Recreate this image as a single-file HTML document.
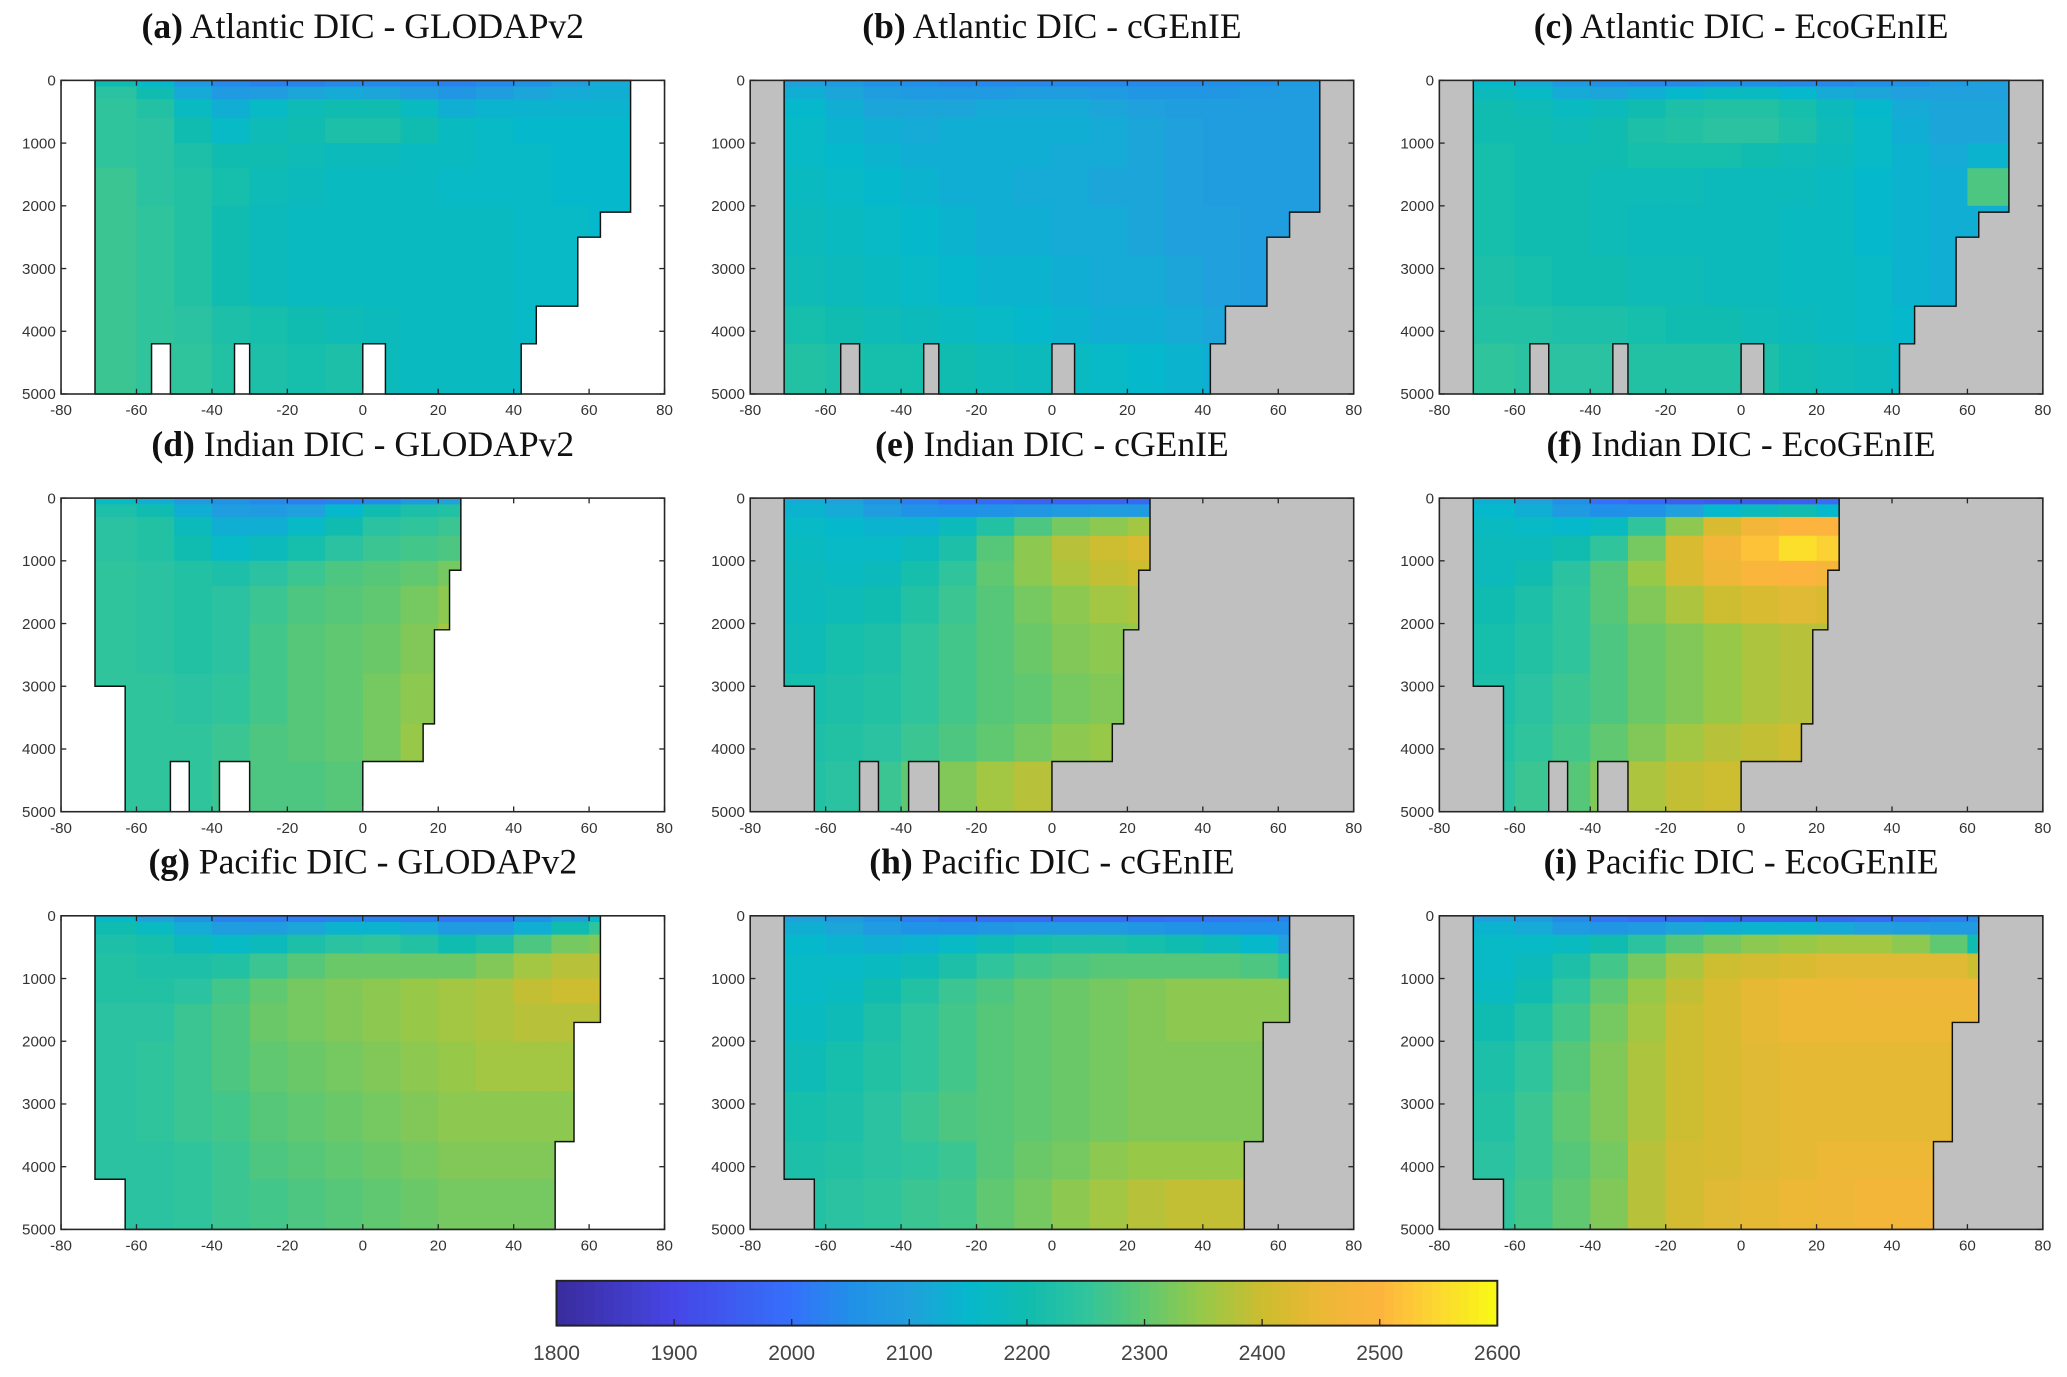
<!DOCTYPE html>
<html><head><meta charset="utf-8"><style>
html,body{margin:0;padding:0;background:#fff;}
svg{display:block;}
</style></head><body>
<svg id="fig" xmlns="http://www.w3.org/2000/svg" width="2067" height="1377" viewBox="0 0 1568 1045">
<defs id="defs"></defs>
<g id="root"></g>
</svg>
<script>
// ---- data ----
const latEdges = [-71,-60,-50,-40,-30,-20,-10,0,10,20,30,40,50,60,71];
const depthEdges = [0,100,300,600,1000,1400,2000,2800,3600,4200,5000];
const xTicks = [-80,-60,-40,-20,0,20,40,60,80];
const yTicks = [0,1000,2000,3000,4000,5000];
const cbTicks = [1800,1900,2000,2100,2200,2300,2400,2500,2600];
const panelTitles = [
 ["(a)","Atlantic DIC - GLODAPv2"],["(b)","Atlantic DIC - cGEnIE"],["(c)","Atlantic DIC - EcoGEnIE"],
 ["(d)","Indian DIC - GLODAPv2"],["(e)","Indian DIC - cGEnIE"],["(f)","Indian DIC - EcoGEnIE"],
 ["(g)","Pacific DIC - GLODAPv2"],["(h)","Pacific DIC - cGEnIE"],["(i)","Pacific DIC - EcoGEnIE"]];
// basin outlines [lat, depth]
const atlanticOutline = [[-71,0],[71,0],[71,2100],[63,2100],[63,2500],[57,2500],[57,3600],[46,3600],[46,4200],[42,4200],[42,5000],[6,5000],[6,4200],[0,4200],[0,5000],[-30,5000],[-30,4200],[-34,4200],[-34,5000],[-51,5000],[-51,4200],[-56,4200],[-56,5000],[-71,5000]];
const indianOutline = [[-71,0],[26,0],[26,1150],[23,1150],[23,2100],[19,2100],[19,3600],[16,3600],[16,4200],[0,4200],[0,5000],[-30,5000],[-30,4200],[-38,4200],[-38,5000],[-46,5000],[-46,4200],[-51,4200],[-51,5000],[-63,5000],[-63,3000],[-71,3000]];
const pacificOutline = [[-71,0],[63,0],[63,1700],[56,1700],[56,3600],[51,3600],[51,5000],[-63,5000],[-63,4200],[-71,4200]];

const atlGlodap = [
[2200,2150,2080,2040,2030,2030,2040,2040,2040,2030,2040,2060,2090,2120],
[2240,2200,2120,2080,2090,2110,2120,2110,2090,2070,2090,2110,2120,2130],
[2250,2230,2170,2130,2160,2190,2200,2200,2170,2130,2140,2140,2140,2140],
[2250,2240,2200,2160,2190,2200,2220,2220,2200,2170,2160,2150,2150,2150],
[2250,2240,2220,2200,2200,2190,2180,2180,2170,2170,2160,2160,2150,2150],
[2260,2240,2230,2210,2190,2180,2170,2170,2170,2160,2160,2160,2150,2150],
[2260,2250,2230,2200,2180,2170,2170,2170,2170,2170,2170,2160,2160,2150],
[2260,2250,2230,2200,2180,2170,2170,2170,2170,2170,2170,2160,2160,2150],
[2260,2250,2240,2220,2210,2200,2190,2180,2170,2170,2170,2160,2160,2150],
[2260,2250,2250,2230,2220,2210,2220,2180,2170,2170,2170,2160,2160,2150]];
const atlCgenie = [
[2100,2080,2060,2050,2040,2040,2040,2040,2040,2040,2040,2050,2060,2080],
[2130,2110,2090,2080,2080,2080,2090,2090,2080,2070,2070,2070,2080,2090],
[2150,2130,2110,2110,2110,2120,2120,2120,2110,2100,2090,2090,2090,2090],
[2160,2140,2130,2120,2130,2130,2130,2130,2120,2110,2100,2090,2090,2090],
[2160,2150,2140,2130,2130,2130,2130,2120,2120,2110,2100,2090,2090,2090],
[2170,2160,2150,2140,2130,2130,2120,2120,2110,2110,2100,2090,2090,2090],
[2180,2170,2160,2150,2140,2130,2130,2120,2120,2110,2100,2100,2090,2090],
[2190,2180,2170,2160,2150,2140,2140,2130,2120,2120,2110,2100,2090,2090],
[2210,2200,2190,2180,2170,2160,2150,2140,2130,2130,2120,2110,2100,2090],
[2230,2220,2210,2210,2200,2190,2180,2170,2160,2150,2140,2130,2120,2100]];
const atlEco = [
[2150,2120,2080,2050,2040,2040,2050,2050,2040,2040,2050,2060,2080,2100],
[2180,2160,2120,2110,2130,2150,2170,2170,2150,2120,2110,2100,2100,2100],
[2200,2190,2170,2180,2200,2220,2230,2230,2210,2180,2150,2120,2110,2110],
[2200,2200,2190,2200,2220,2230,2240,2240,2220,2190,2160,2130,2110,2110],
[2210,2200,2200,2200,2210,2210,2210,2200,2190,2180,2160,2140,2120,2140],
[2210,2200,2200,2190,2190,2190,2180,2180,2180,2170,2150,2140,2130,2280],
[2210,2200,2200,2190,2180,2180,2180,2180,2170,2170,2150,2140,2130,2130],
[2220,2210,2200,2200,2190,2190,2180,2180,2170,2170,2160,2140,2130,2130],
[2230,2230,2220,2220,2210,2200,2200,2190,2180,2170,2160,2150,2140,2130],
[2250,2240,2240,2240,2230,2230,2230,2220,2200,2190,2180,2160,2150,2140]];
const indGlodap = [
[2170,2130,2080,2060,2040,2020,2030,2040,2080,2100,2100,2100,2100,2100],
[2220,2200,2130,2090,2080,2100,2150,2200,2220,2230,2230,2230,2230,2230],
[2240,2230,2180,2130,2130,2160,2200,2240,2250,2260,2260,2260,2260,2260],
[2240,2230,2200,2160,2180,2210,2240,2260,2270,2280,2280,2280,2280,2280],
[2250,2240,2230,2220,2240,2260,2280,2290,2300,2320,2320,2320,2320,2320],
[2250,2240,2230,2240,2260,2280,2290,2300,2320,2340,2340,2340,2340,2340],
[2250,2240,2230,2240,2270,2290,2300,2310,2330,2360,2360,2360,2360,2360],
[2250,2250,2240,2250,2270,2290,2300,2320,2340,2370,2370,2370,2370,2370],
[2250,2250,2250,2260,2280,2290,2300,2320,2350,2360,2360,2360,2360,2360],
[2250,2250,2250,2260,2280,2280,2290,2300,2350,2360,2360,2360,2360,2360]];
const indCgenie = [
[2120,2100,2060,2020,1990,1980,1970,1970,1970,1980,1980,1980,1980,1980],
[2140,2120,2090,2060,2050,2060,2070,2080,2090,2080,2080,2080,2080,2080],
[2160,2150,2140,2140,2180,2230,2280,2320,2340,2360,2360,2360,2360,2360],
[2170,2160,2160,2180,2220,2290,2340,2380,2400,2420,2420,2420,2420,2420],
[2180,2170,2180,2210,2250,2300,2340,2370,2390,2400,2400,2400,2400,2400],
[2180,2190,2200,2230,2260,2290,2320,2340,2360,2370,2370,2370,2370,2370],
[2190,2210,2220,2250,2270,2290,2310,2330,2340,2350,2350,2350,2350,2350],
[2210,2220,2230,2250,2270,2290,2300,2320,2330,2340,2340,2340,2340,2340],
[2220,2230,2240,2260,2280,2300,2320,2340,2350,2350,2350,2350,2350,2350],
[2230,2240,2260,2300,2330,2360,2380,2390,2390,2390,2390,2390,2390,2390]];
const indEco = [
[2130,2100,2050,2000,1980,1960,1950,1950,1960,1990,1990,1990,1990,1990],
[2150,2130,2080,2050,2060,2100,2150,2180,2200,2150,2150,2150,2150,2150],
[2170,2160,2150,2170,2250,2340,2420,2470,2500,2500,2500,2500,2500,2500],
[2180,2180,2200,2250,2320,2420,2470,2520,2560,2540,2540,2540,2540,2540],
[2180,2200,2240,2290,2350,2420,2460,2490,2500,2480,2480,2480,2480,2480],
[2200,2220,2250,2290,2330,2370,2400,2420,2430,2420,2420,2420,2420,2420],
[2210,2230,2250,2280,2310,2330,2350,2370,2380,2380,2380,2380,2380,2380],
[2220,2240,2260,2280,2310,2330,2350,2370,2380,2380,2380,2380,2380,2380],
[2230,2250,2270,2300,2330,2360,2380,2390,2400,2400,2400,2400,2400,2400],
[2240,2260,2290,2330,2370,2390,2400,2400,2400,2400,2400,2400,2400,2400]];
const pacGlodap = [
[2150,2100,2060,2030,2020,2020,2030,2030,2020,2010,2010,2050,2100,2150],
[2200,2170,2120,2090,2090,2110,2140,2140,2120,2080,2080,2130,2200,2250],
[2220,2210,2180,2160,2180,2220,2240,2250,2230,2200,2220,2280,2320,2330],
[2230,2220,2220,2230,2260,2290,2310,2310,2310,2310,2330,2360,2380,2380],
[2230,2230,2240,2270,2300,2320,2330,2340,2350,2360,2370,2390,2400,2400],
[2240,2240,2260,2280,2310,2320,2330,2340,2350,2360,2370,2380,2380,2380],
[2240,2250,2260,2280,2300,2310,2320,2330,2340,2350,2360,2360,2360,2360],
[2240,2250,2260,2270,2290,2300,2310,2320,2330,2340,2340,2340,2340,2340],
[2240,2240,2250,2260,2280,2290,2300,2310,2320,2330,2330,2330,2330,2330],
[2240,2240,2250,2260,2270,2280,2290,2300,2310,2320,2320,2320,2320,2320]];
const pacCgenie = [
[2100,2080,2050,2020,2000,1990,1990,1990,1990,1990,2000,2010,2020,2030],
[2130,2110,2080,2060,2060,2070,2080,2080,2080,2070,2060,2050,2050,2050],
[2150,2140,2130,2140,2160,2190,2210,2220,2220,2210,2200,2180,2150,2100],
[2160,2160,2170,2190,2220,2250,2270,2280,2290,2290,2290,2290,2280,2250],
[2160,2170,2200,2230,2260,2280,2300,2310,2320,2330,2340,2340,2340,2340],
[2170,2190,2220,2250,2270,2290,2300,2310,2320,2330,2340,2340,2340,2340],
[2190,2210,2230,2250,2270,2290,2300,2310,2320,2330,2330,2330,2330,2330],
[2210,2220,2240,2260,2280,2290,2300,2310,2320,2330,2330,2330,2330,2330],
[2220,2230,2240,2250,2260,2290,2310,2320,2340,2350,2350,2350,2350,2350],
[2230,2240,2250,2260,2270,2300,2320,2340,2360,2380,2390,2390,2390,2390]];
const pacEco = [
[2100,2080,2040,2010,1990,1980,1970,1970,1970,1980,1990,2000,2020,2040],
[2140,2120,2080,2070,2080,2110,2130,2140,2140,2120,2100,2090,2080,2080],
[2160,2160,2170,2200,2240,2290,2320,2340,2350,2360,2360,2340,2300,2200],
[2160,2180,2220,2270,2320,2370,2400,2410,2420,2430,2430,2430,2430,2400],
[2170,2200,2250,2300,2350,2390,2420,2440,2450,2450,2460,2460,2460,2460],
[2200,2230,2270,2320,2360,2400,2420,2440,2450,2450,2450,2450,2450,2450],
[2220,2250,2290,2330,2370,2400,2420,2430,2440,2440,2440,2440,2440,2440],
[2230,2260,2300,2330,2370,2400,2420,2430,2440,2440,2440,2440,2440,2440],
[2240,2260,2290,2320,2380,2410,2420,2430,2440,2450,2450,2450,2450,2450],
[2250,2270,2300,2330,2380,2410,2430,2440,2450,2460,2470,2470,2470,2470]];

// ---- colormap ----
const cmapStops = [[1800,[58,44,156]],[1900,[70,70,230]],[2000,[53,112,250]],[2050,[33,144,232]],[2100,[32,160,220]],[2150,[6,184,204]],[2200,[16,188,176]],[2250,[48,196,156]],[2300,[96,200,112]],[2350,[152,200,72]],[2400,[205,189,48]],[2450,[236,184,54]],[2500,[253,180,62]],[2550,[252,216,48]],[2600,[248,250,20]]];
function cmap(v){
  if(v<=cmapStops[0][0]) return 'rgb('+cmapStops[0][1]+')';
  for(let i=1;i<cmapStops.length;i++){
    if(v<=cmapStops[i][0]){
      const a=cmapStops[i-1],b=cmapStops[i],t=(v-a[0])/(b[0]-a[0]);
      return 'rgb('+a[1].map((c,k)=>Math.round(c+(b[1][k]-c)*t)).join(',')+')';
    }
  }
  return 'rgb('+cmapStops[cmapStops.length-1][1]+')';
}

// ---- layout ----
const NS='http://www.w3.org/2000/svg';
const root=document.getElementById('root'), defs=document.getElementById('defs');
const colLeft=[46,569,1092], rowTop=[61,378,695], AW=458, AH=238;
const panels=[
 [atlGlodap,atlanticOutline,false],[atlCgenie,atlanticOutline,true],[atlEco,atlanticOutline,true],
 [indGlodap,indianOutline,false],[indCgenie,indianOutline,true],[indEco,indianOutline,true],
 [pacGlodap,pacificOutline,false],[pacCgenie,pacificOutline,true],[pacEco,pacificOutline,true]];
function mk(tag,attrs,parent){const e=document.createElementNS(NS,tag);for(const k in attrs)e.setAttribute(k,attrs[k]);(parent||root).appendChild(e);return e;}

panels.forEach((p,idx)=>{
  const [data,outline,model]=p;
  const x0=colLeft[idx%3], y0=rowTop[Math.floor(idx/3)];
  const xs=lat=>x0+(lat+80)/160*AW;
  const ys=d=>y0+d/5000*AH;
  const g=mk('g',{});
  
  
  const t=mk('text',{x:x0+AW/2,y:y0-32,'text-anchor':'middle','font-family':'"Liberation Serif",serif','font-size':'27',fill:'#111'},g);
  
  
  const tb=mk('tspan',{'font-weight':'bold'},t); tb.textContent=panelTitles[idx][0];
  const tr=mk('tspan',{},t); tr.textContent=' '+panelTitles[idx][1];
  const bg=mk('rect',{x:x0,y:y0,width:AW,height:AH,fill:model?'#c0c0c0':'#ffffff'},g);
  
  
  const pts=outline.map(q=>xs(q[0]).toFixed(2)+','+ys(q[1]).toFixed(2)).join(' ');
  const cp=mk('clipPath',{id:'clip'+idx},defs);
  mk('polygon',{points:pts},cp);
  const cells=mk('g',{'clip-path':'url(#clip'+idx+')'},g);
  
  
  for(let r=0;r<depthEdges.length-1;r++){
    for(let c=0;c<latEdges.length-1;c++){
      const xa=xs(latEdges[c]),xb=xs(latEdges[c+1]),ya=ys(depthEdges[r]),yb=ys(depthEdges[r+1]);
      const cell=mk('rect',{x:xa,y:ya,width:xb-xa+0.6,height:yb-ya+0.6,fill:cmap(data[r][c])},cells);
      
      
    }
  }
  const ol=mk('polygon',{points:pts,fill:'none',stroke:'#111',"stroke-width":'1.1'},g);
  
  
  const box=mk('rect',{x:x0,y:y0,width:AW,height:AH,fill:'none',stroke:'#262626','stroke-width':'1.2'},g);
  
  
  xTicks.forEach(v=>{
    const x=xs(v);
    mk('line',{x1:x,x2:x,y1:y0+AH,y2:y0+AH-4,stroke:'#262626','stroke-width':'1'},g);
    mk('line',{x1:x,x2:x,y1:y0,y2:y0+4,stroke:'#262626','stroke-width':'1'},g);
    const l=mk('text',{x:x,y:y0+AH+16,'text-anchor':'middle','font-family':'"Liberation Sans",sans-serif','font-size':'11.5',fill:'#333'},g);
    
    
    l.textContent=v;
  });
  yTicks.forEach(v=>{
    const y=ys(v);
    mk('line',{x1:x0,x2:x0+4,y1:y,y2:y,stroke:'#262626','stroke-width':'1'},g);
    mk('line',{x1:x0+AW,x2:x0+AW-4,y1:y,y2:y,stroke:'#262626','stroke-width':'1'},g);
    const l=mk('text',{x:x0-4,y:y+4,'text-anchor':'end','font-family':'"Liberation Sans",sans-serif','font-size':'11.5',fill:'#333'},g);
    
    
    l.textContent=v;
  });
});

// ---- colorbar ----
const cbX0=422, cbX1=1136, cbY0=972, cbY1=1006;
const cbx=v=>cbX0+(v-1800)/800*(cbX1-cbX0);
const cb=mk('g',{});


for(let v=1800;v<2600;v+=8){
  mk('rect',{x:cbx(v),y:cbY0,width:cbx(v+8)-cbx(v)+0.5,height:cbY1-cbY0,fill:cmap(v+4)},cb);
}
mk('rect',{x:cbX0,y:cbY0,width:cbX1-cbX0,height:cbY1-cbY0,fill:'none',stroke:'#222','stroke-width':'1.5'},cb);
cbTicks.forEach(v=>{
  const x=cbx(v);
  mk('line',{x1:x,x2:x,y1:cbY1,y2:cbY1-5,stroke:'#222','stroke-width':'1'},cb);
  const l=mk('text',{x:x,y:1032,'text-anchor':'middle','font-family':'"Liberation Sans",sans-serif','font-size':'16',fill:'#444'},cb);
  
  
  l.textContent=v;
});
</script>
</body></html>
